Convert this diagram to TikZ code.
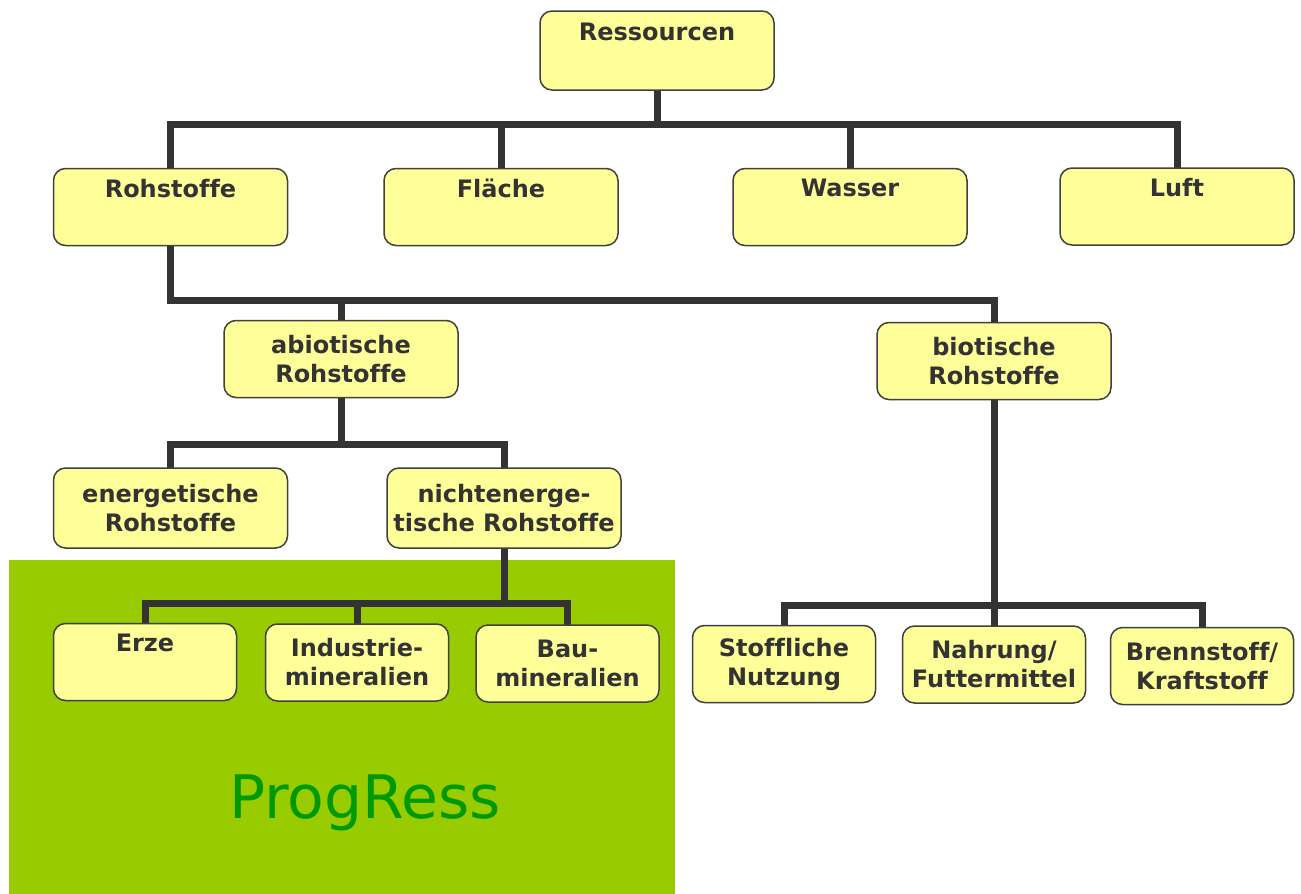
\documentclass[tikz,border=0pt]{standalone}
\usepackage{fontspec}
\setmainfont{DejaVu Sans}[Ligatures=NoCommon]
\usetikzlibrary{backgrounds}
\definecolor{boxfill}{HTML}{FFFF99}
\definecolor{boxline}{HTML}{404040}
\definecolor{txt}{HTML}{333333}
\definecolor{conncol}{HTML}{333333}
\definecolor{bggreen}{HTML}{99CC00}
\definecolor{progreen}{HTML}{009900}
\tikzset{
  box/.style={draw=boxline, fill=boxfill, line width=0.75pt, rounded corners=6pt,
    minimum width=117pt, minimum height=38.5pt, align=center, text=txt,
    font=\fontsize{12}{14.5}\selectfont\bfseries, inner sep=0pt},
  sbox/.style={box, minimum width=91.5pt},
  link/.style={draw=conncol, line width=3.5pt, line cap=rect}
}
\begin{document}
\begin{tikzpicture}[x=0.5pt, y=-0.5pt]
\useasboundingbox (0,0) rectangle (1301,894);

\coordinate (bus1) at (657,124);
\coordinate (bus2) at (170.5,300);
\coordinate (bus3) at (341,444);
\coordinate (bus4) at (504,603);
\coordinate (bus5) at (994,605);

\node[box, minimum height=39.5pt] (res) at (657,50.5) {Ressourcen\\ \strut};
\node[box] (roh) at (170.5,207) {Rohstoffe\\ \strut};
\node[box] (fla) at (501,207) {Fläche\\ \strut};
\node[box] (was) at (850,207) {Wasser\\ \strut};
\node[box] (luft) at (1177,206.5) {Luft\\ \strut};
\node[box] (abio) at (341,359) {abiotische\\Rohstoffe};
\node[box] (bio) at (994,361) {biotische\\Rohstoffe};
\node[box, minimum height=40pt] (ener) at (170.5,508) {energetische\\Rohstoffe};
\node[box, minimum height=40pt] (nicht) at (504,508) {nichtenerge-\\tische Rohstoffe};
\node[sbox] (erze) at (145,662) {Erze\\ \strut};
\node[sbox] (indu) at (357,662.5) {Industrie-\\mineralien};
\node[sbox] (bau) at (567.5,663.5) {Bau-\\mineralien};
\node[sbox] (stoff) at (784,664) {Stoffliche\\Nutzung};
\node[sbox] (nahr) at (994,664.5) {Nahrung/\\Futtermittel};
\node[sbox] (brenn) at (1202,666) {Brennstoff/\\Kraftstoff};

\node[text=progreen, font=\fontsize{30}{36}\selectfont] (prog) at (365,803) {ProgRess};

\begin{scope}[on background layer]
\fill[white] (0,0) rectangle (1301,894);
\fill[bggreen] (9,560) rectangle (675,894);
\draw[link] (res.south) -- (bus1);
\foreach \c in {roh,fla,was,luft} \draw[link] (\c.north) |- (bus1);
\draw[link] (roh.south) -- (bus2);
\foreach \c in {abio,bio} \draw[link] (\c.north) |- (bus2);
\draw[link] (abio.south) -- (bus3);
\foreach \c in {ener,nicht} \draw[link] (\c.north) |- (bus3);
\draw[link] (nicht.south) -- (bus4);
\foreach \c in {erze,indu,bau} \draw[link] (\c.north) |- (bus4);
\draw[link] (bio.south) -- (bus5);
\foreach \c in {stoff,nahr,brenn} \draw[link] (\c.north) |- (bus5);
\end{scope}
\end{tikzpicture}
\end{document}
